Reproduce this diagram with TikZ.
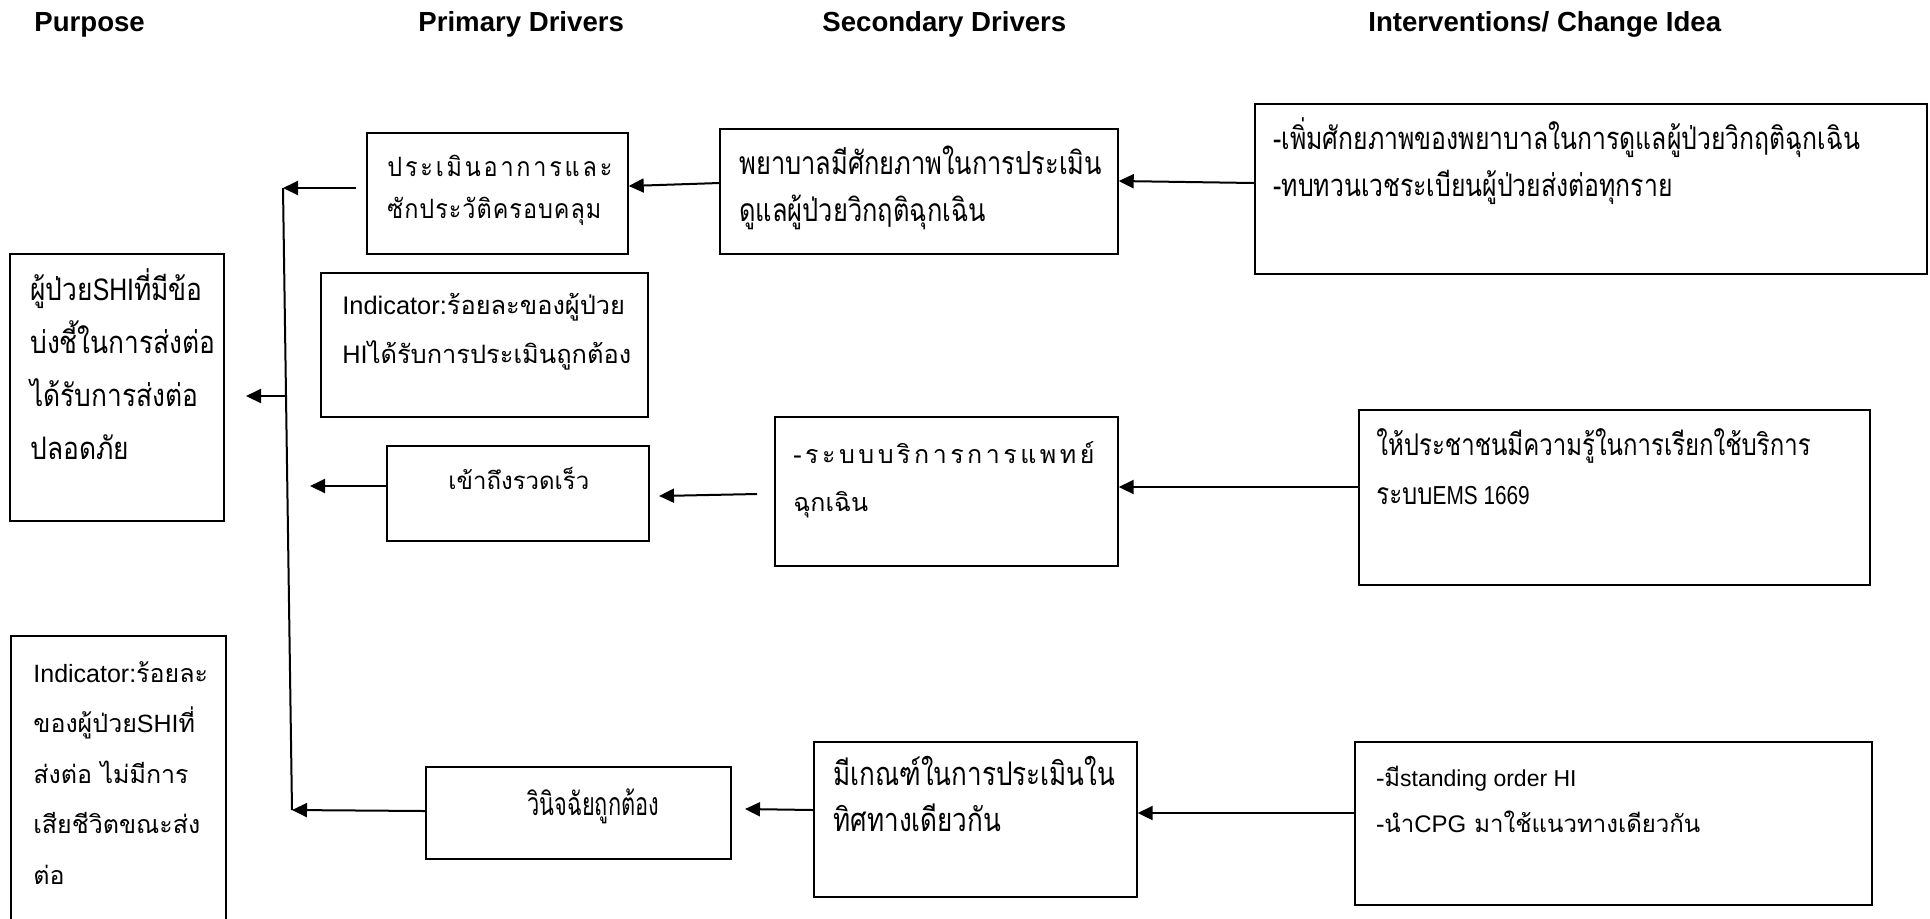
\documentclass[tikz,border=0pt]{standalone}
\usepackage{fontspec}
\setmainfont{Liberation Sans}
\newfontfamily\thn[Script=Thai]{Loma}
\newfontfamily\thc[Script=Thai,FakeStretch=0.8]{Loma}
\newfontfamily\thcn[Script=Thai,FakeStretch=0.68]{Loma}
\newfontfamily\thcb[Script=Thai,FakeStretch=0.85]{Loma}
\newfontfamily\thm[Script=Thai,FakeStretch=0.88]{Loma}
\newfontfamily\lac[FakeStretch=0.8]{Liberation Sans}
\usetikzlibrary{arrows.meta,fit}
\newcommand\lt[1]{{\rmfamily #1}}
\newcommand\ltc[1]{{\lac #1}}
\newcommand\fs[2]{\fontsize{#1}{#2}\selectfont}
\newcommand\ka{\kern1.4pt}
\newcommand\kb{\kern0.5pt}
\newcommand\ks{\kern1.75pt}
\newcommand\lines[1]{\begin{tabular}[t]{@{}l@{}}#1\end{tabular}}
\begin{document}
\begin{tikzpicture}[x=0.5pt,y=-0.5pt,
  box/.style={draw, line width=0.7pt, inner sep=0pt},
  txt/.style={anchor=base west, inner sep=0pt},
  conn/.style={line width=1pt, -{Triangle[length=7.5pt,width=7pt]}},
  head/.style={anchor=base west, inner sep=0pt, font=\fs{13.8}{16}\bfseries}]
\useasboundingbox (0,0) rectangle (1930,918);

% headers
\node[head] (h1) at (34,31) {Purpose};
\node[head] (h2) at (418,31) {Primary Drivers};
\node[head] (h3) at (822,31) {Secondary Drivers};
\node[head] (h4) at (1368,31) {Interventions/ Change Idea};

% boxes
\node[box, fit={(10,254) (224,521)}] (b1) {};
\node[box, fit={(11,636) (226,940)}] (b2) {};
\node[box, fit={(367,133) (628,254)}] (b3) {};
\node[box, fit={(321,273) (648,417)}] (b4) {};
\node[box, fit={(387,446) (649,541)}] (b5) {};
\node[box, fit={(426,767) (731,859)}] (b6) {};
\node[box, fit={(720,129) (1118,254)}] (b7) {};
\node[box, fit={(775,417) (1118,566)}] (b8) {};
\node[box, fit={(814,742) (1137,897)}] (b9) {};
\node[box, fit={(1255,104) (1927,274)}] (b10) {};
\node[box, fit={(1359,410) (1870,585)}] (b11) {};
\node[box, fit={(1355,742) (1872,905)}] (b12) {};

% texts
\node[txt, font=\thcb\fs{15.5}{26.5}] (t1) at (30,300) {\lines{%
ผู้ป่วย\ltc{SHI}ที่มีข้อ\\
บ่งชี้ในการส่งต่อ\\
ได้รับการส่งต่อ\\
ปลอดภัย}};
\node[txt, font=\thn\fs{12.5}{25.3}] (t2) at (33,682) {\lines{%
\lt{Indicator:}ร้อยละ\\
ของผู้ป่วย\lt{SHI}ที่\\
ส่งต่อ ไม่มีการ\\
เสียชีวิตขณะส่ง\\
ต่อ}};
\node[txt, font=\thm\fs{13.3}{21}] (t3) at (387,176) {\lines{%
ป\ka ร\ka ะ\ka เ\ka มิ\ka น\ka อ\ka า\ka ก\ka า\ka ร\ka แ\ka ล\ka ะ\\
ซั\kb ก\kb ป\kb ร\kb ะ\kb วั\kb ติ\kb ค\kb ร\kb อ\kb บ\kb ค\kb ลุ\kb ม}};
\node[txt, font=\thn\fs{12.7}{24.5}] (t4) at (342,314) {\lines{%
\lt{Indicator:}ร้อยละของผู้ป่วย\\
\lt{HI}ได้รับการประเมินถูกต้อง}};
\node[txt, font=\thn\fs{12}{20}] (t5) at (448,489) {เข้าถึงรวดเร็ว};
\node[txt, font=\thcn\fs{16}{20}] (t6) at (527,815) {วินิจฉัยถูกต้อง};
\node[txt, font=\thc\fs{15.9}{23.5}] (t7) at (739,174) {\lines{%
พยาบาลมีศักยภาพในการประเมิน\\
ดูแลผู้ป่วยวิกฤติฉุกเฉิน}};
\node[txt, font=\thn\fs{12.5}{24}] (t8) at (793,463) {\lines{%
-\ks ร\ks ะ\ks บ\ks บ\ks บ\ks ริ\ks ก\ks า\ks ร\ks ก\ks า\ks ร\ks แ\ks พ\ks ท\ks ย์\\
ฉุกเฉิน}};
\node[txt, font=\thc\fs{16.3}{23}] (t9) at (833,785) {\lines{%
มีเกณฑ์ในการประเมินใน\\
ทิศทางเดียวกัน}};
\node[txt, font=\thc\fs{15.5}{23.5}] (t10) at (1273,149) {\lines{%
-เพิ่มศักยภาพของพยาบาลในการดูแลผู้ป่วยวิกฤติฉุกเฉิน\\
-ทบทวนเวชระเบียนผู้ป่วยส่งต่อทุกราย}};
\node[txt, font=\thc\fs{15}{24.5}] (t11) at (1376,455) {\lines{%
ให้ประชาชนมีความรู้ในการเรียกใช้บริการ\\
ระบบ\ltc{\fs{13}{24.5}EMS 1669}}};
\node[txt, font=\thn\fs{12}{23}] (t12) at (1376,786) {\lines{%
-มี\lt{\fs{11.5}{23}standing order HI}\\
-นำ\lt{CPG} มาใช้แนวทางเดียวกัน}};

% connector helper coordinates
\coordinate (vt) at (283,188);
\coordinate (vb) at (292,810);
\coordinate (c3) at (356,188);
\coordinate (c4a) at (286,396);
\coordinate (c4b) at (246,396);
\coordinate (c5) at (310,486);
\coordinate (c6a) at (757,494);
\coordinate (c6b) at (659,496);
\coordinate (c9) at (745,809);

% connectors
\draw[conn] ([yshift=3pt]b10.west) -- ([yshift=5.25pt]b7.east);
\draw[conn] ([yshift=4.25pt]b7.west) -- ([yshift=3.75pt]b3.east);
\draw[conn] (c3) -- (vt);
\draw[line width=1pt] (vt) -- (vb);
\draw[conn] (c4a) -- (c4b);
\draw[conn] ([yshift=3.75pt]b5.west) -- (c5);
\draw[conn] (c6a) -- (c6b);
\draw[conn] ([yshift=5.25pt]b11.west) -- ([yshift=2.25pt]b8.east);
\draw[conn] ([yshift=1pt]b6.west) -- (vb);
\draw[conn] ([yshift=4.75pt]b9.west) -- (c9);
\draw[conn] ([yshift=5.25pt]b12.west) -- ([yshift=3.25pt]b9.east);
\end{tikzpicture}
\end{document}
